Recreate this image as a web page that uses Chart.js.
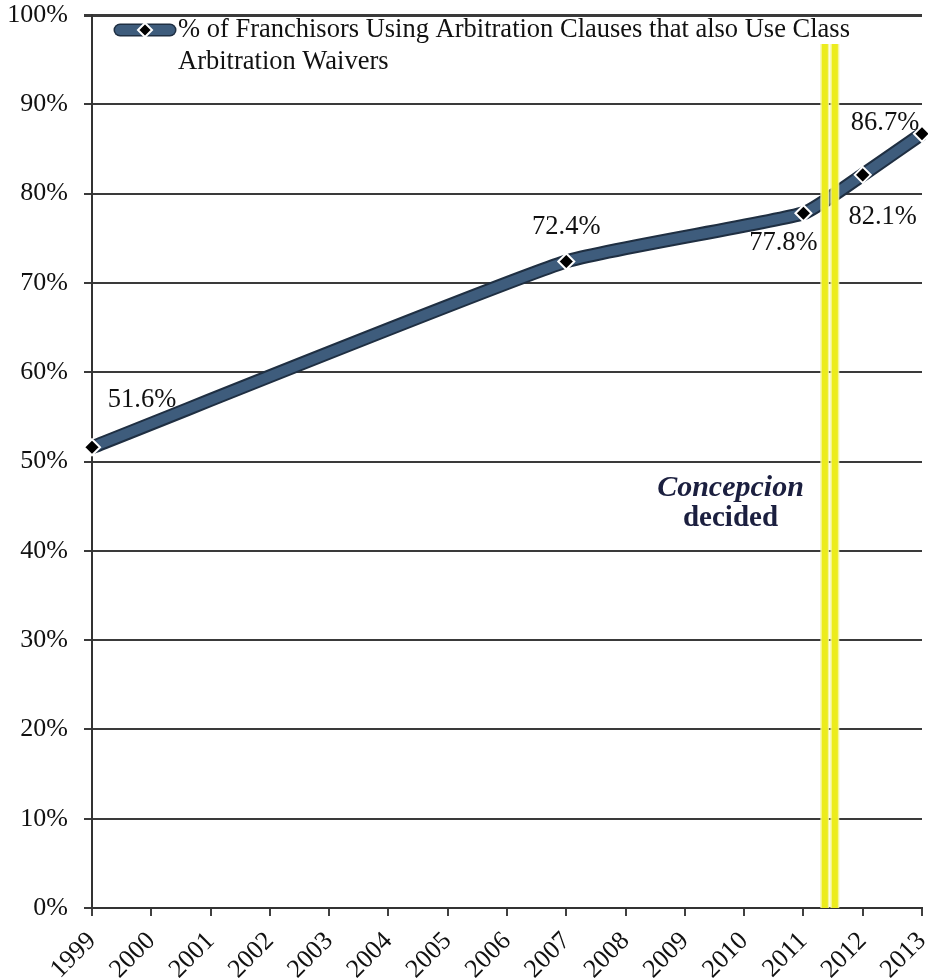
<!DOCTYPE html>
<html>
<head>
<meta charset="utf-8">
<script src="https://cdn.jsdelivr.net/npm/chart.js@4.4.1/dist/chart.umd.min.js"></script>
<style>
html,body{margin:0;padding:0;background:#fff;}
#wrap{width:928px;height:980px;position:relative;}
</style>
</head>
<body>
<div id="wrap"><canvas id="c" width="928" height="980"></canvas></div>
<script>
// ---- data ----
const years = [1999, 2007, 2011, 2012, 2013];
const pctValues = [51.6, 72.4, 77.8, 82.1, 86.7];
const yearTicks = [1999,2000,2001,2002,2003,2004,2005,2006,2007,2008,2009,2010,2011,2012,2013];
const seriesName = '% of Franchisors Using Arbitration Clauses that also Use Class Arbitration Waivers';
const legendLines = ['% of Franchisors Using Arbitration Clauses that also Use Class', 'Arbitration Waivers'];
const concepcionBand = [2011.31, 2011.58];
const annotationLines = ['Concepcion', 'decided'];

const FONT = '"Liberation Serif", "Times New Roman", serif';
const points = years.map((y, i) => ({x: y, y: pctValues[i]}));

// label offsets (style, in px relative to the point)
const labelOffsets = [[50, -47], [0, -34], [-20, 30], [20, 42], [-37, -11]];

const overlay = {
  id: 'overlay',
  afterDatasetsDraw(chart) {
    const ctx = chart.ctx, xs = chart.scales.x, ys = chart.scales.y, ca = chart.chartArea;
    // yellow band (two bars)
    const xl = xs.getPixelForValue(concepcionBand[0]);
    const xr = xs.getPixelForValue(concepcionBand[1]);
    ctx.save();
    [[xl, xl + 6], [xr - 6, xr]].forEach(([a, b]) => {
      ctx.fillStyle = 'rgba(245,245,150,0.9)';
      ctx.fillRect(a - 1.5, ca.top + 29, b - a + 3, ca.bottom - ca.top - 29);
      ctx.fillStyle = '#ecec1c';
      ctx.fillRect(a, ca.top + 29, b - a, ca.bottom - ca.top - 29);
    });
    ctx.restore();

    // data labels
    ctx.save();
    ctx.font = '26.5px ' + FONT;
    ctx.fillStyle = '#111';
    ctx.textAlign = 'center';
    ctx.textBaseline = 'middle';
    points.forEach((p, i) => {
      const px = xs.getPixelForValue(p.x), py = ys.getPixelForValue(p.y);
      ctx.fillText(p.y.toFixed(1) + '%', px + labelOffsets[i][0], py + labelOffsets[i][1]);
    });
    ctx.restore();

    // annotation text
    ctx.save();
    ctx.fillStyle = '#1b1f3f';
    ctx.textAlign = 'center';
    ctx.textBaseline = 'middle';
    const ax = xs.getPixelForValue(2009.77);
    ctx.font = 'italic bold 30px ' + FONT;
    ctx.fillText(annotationLines[0], ax, ys.getPixelForValue(47.0));
    ctx.font = 'bold 29px ' + FONT;
    ctx.fillText(annotationLines[1], ax, ys.getPixelForValue(43.6));
    ctx.restore();

    // legend
    ctx.save();
    const ly = 30;
    ctx.lineCap = 'round';
    ctx.strokeStyle = '#1f2f42'; ctx.lineWidth = 13;
    ctx.beginPath(); ctx.moveTo(120, ly); ctx.lineTo(170, ly); ctx.stroke();
    ctx.strokeStyle = '#3e5c7c'; ctx.lineWidth = 10;
    ctx.beginPath(); ctx.moveTo(120, ly); ctx.lineTo(170, ly); ctx.stroke();
    ctx.beginPath();
    ctx.moveTo(145, ly - 7); ctx.lineTo(152, ly); ctx.lineTo(145, ly + 7); ctx.lineTo(138, ly); ctx.closePath();
    ctx.fillStyle = '#000'; ctx.fill(); ctx.lineWidth = 2; ctx.strokeStyle = '#fff'; ctx.stroke();
    ctx.font = '26.5px ' + FONT;
    ctx.fillStyle = '#111';
    ctx.textAlign = 'left';
    ctx.textBaseline = 'middle';
    ctx.fillText(legendLines[0], 178, ly);
    ctx.fillText(legendLines[1], 178, ly + 32);
    ctx.restore();
  }
};

new Chart(document.getElementById('c'), {
  type: 'line',
  data: {
    datasets: [
      {
        label: seriesName + ' outline',
        data: points,
        borderColor: '#1f2f42',
        borderWidth: 14,
        pointRadius: 0,
        tension: 0.15,
        borderCapStyle: 'butt',
        order: 2
      },
      {
        label: seriesName,
        data: points,
        borderColor: '#3e5c7c',
        borderWidth: 10,
        pointStyle: 'rectRot',
        pointRadius: 8,
        pointBackgroundColor: '#000',
        pointBorderColor: '#fff',
        pointBorderWidth: 2,
        tension: 0.15,
        borderCapStyle: 'butt',
        order: 1
      }
    ]
  },
  options: {
    responsive: false,
    animation: false,
    clip: 12,
    layout: {autoPadding: false, padding: {top: 15, right: 6, left: 0, bottom: 0}},
    plugins: {legend: {display: false}, tooltip: {enabled: false}},
    scales: {
      x: {
        type: 'linear',
        min: yearTicks[0],
        max: yearTicks[yearTicks.length - 1],
        afterBuildTicks(scale) { scale.ticks = yearTicks.map(v => ({value: v})); },
        afterFit(scale) { scale.height = 72; scale.paddingLeft = 0; scale.paddingRight = 0; },
        grid: {drawOnChartArea: false, drawTicks: true, tickLength: 8, color: '#404040', lineWidth: 2},
        border: {color: '#333', width: 2},
        ticks: {
          callback: v => String(v),
          maxRotation: 45, minRotation: 45,
          autoSkip: false,
          padding: 10,
          color: '#111',
          font: {family: FONT, size: 26}
        }
      },
      y: {
        min: 0, max: 100,
        afterFit(scale) { scale.width = 92; scale.paddingTop = 0; scale.paddingBottom = 0; },
        grid: {color: '#3a3a3a', lineWidth: ctx => (ctx.tick && ctx.tick.value === 100 ? 3 : 2), tickLength: 8},
        border: {color: '#333', width: 2},
        ticks: {
          stepSize: 10,
          callback: v => v + '%',
          padding: 16,
          color: '#111',
          font: {family: FONT, size: 26}
        }
      }
    }
  },
  plugins: [overlay]
});
</script>
</body>
</html>
